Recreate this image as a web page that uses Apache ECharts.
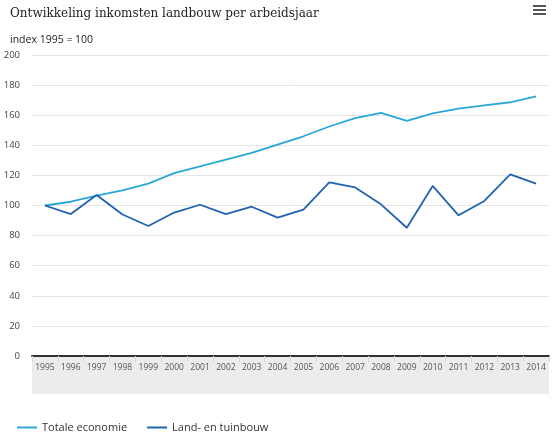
<!DOCTYPE html>
<html>
<head>
<meta charset="utf-8">
<script src="https://cdn.jsdelivr.net/npm/echarts@6/dist/echarts.min.js"></script>
<style>
  html, body { margin: 0; padding: 0; background: #fff; }
  #chart { width: 556px; height: 438px; }
</style>
</head>
<body>
<div id="chart"></div>
<script>
// --- data ---
const years = ['1995', '1996', '1997', '1998', '1999', '2000', '2001', '2002', '2003', '2004',
  '2005', '2006', '2007', '2008', '2009', '2010', '2011', '2012', '2013', '2014']
const totaleEconomie = [100, 102.5, 106.5, 110, 114.5, 121.5, 126, 130.5, 135, 140.5,
  146, 152.5, 158, 161.5, 156.3, 161.2, 164.3, 166.5, 168.6, 172.5]
const landTuinbouw = [100, 94.3, 107, 94, 86.4, 95.3, 100.5, 94.3, 99.2, 91.9,
  97.3, 115.4, 112, 100.8, 85.2, 113, 93.5, 103, 120.7, 114.5]
const yTicks = { min: 0, max: 200, interval: 20 }

const chart = echarts.init(document.getElementById('chart'))

const font = '"Open Sans", "DejaVu Sans", sans-serif'

chart.setOption({
  animation: false,
  textStyle: { fontFamily: font },
  title: [
    {
      text: 'Ontwikkeling inkomsten landbouw per arbeidsjaar',
      left: 5,
      top: 3,
      textStyle: { fontFamily: '"DejaVu Serif", serif', fontSize: 12, fontWeight: 'normal', color: '#222' },
    },
    {
      text: 'index 1995 = 100',
      left: 5,
      top: 30,
      textStyle: { fontFamily: font, fontSize: 10.5, fontWeight: 'normal', color: '#222' },
    },
  ],
  grid: { left: 32, right: 7, top: 55, bottom: 82 },
  legend: {
    left: 12,
    bottom: 0,
    itemWidth: 20,
    itemHeight: 2,
    itemGap: 20,
    icon: 'rect',
    textStyle: { fontSize: 11, color: '#333', fontFamily: font },
    data: ['Totale economie', 'Land- en tuinbouw'],
  },
  graphic: [
    // grijze band achter de jaartallen
    { type: 'rect', left: 32, top: 357, shape: { width: 517, height: 37 }, style: { fill: '#ececec' }, z: -10 },
    // menu-icoon
    { type: 'rect', left: 533, top: 5, shape: { width: 13, height: 2 }, style: { fill: '#555' } },
    { type: 'rect', left: 533, top: 9, shape: { width: 13, height: 2 }, style: { fill: '#555' } },
    { type: 'rect', left: 533, top: 13, shape: { width: 13, height: 2 }, style: { fill: '#555' } },
  ],
  xAxis: {
    type: 'category',
    data: years,
    boundaryGap: true,
    axisLine: { lineStyle: { color: '#333', width: 2 } },
    axisTick: { show: true, length: 6, interval: 0, lineStyle: { color: '#d4d4d4' } },
    axisLabel: { interval: 0, fontSize: 8.5, color: '#555', margin: 7 },
  },
  yAxis: {
    type: 'value',
    min: yTicks.min,
    max: yTicks.max,
    interval: yTicks.interval,
    axisLine: { show: false },
    axisTick: { show: false },
    axisLabel: { fontSize: 9.5, color: '#444', margin: 12 },
    splitLine: { lineStyle: { color: '#e6e6e6' } },
  },
  series: [
    {
      name: 'Totale economie',
      type: 'line',
      data: totaleEconomie,
      color: '#2aa9d8',
      symbol: 'none',
      lineStyle: { width: 1.8 },
    },
    {
      name: 'Land- en tuinbouw',
      type: 'line',
      data: landTuinbouw,
      color: '#2163b0',
      symbol: 'none',
      lineStyle: { width: 1.8 },
    },
  ],
})
</script>
</body>
</html>
